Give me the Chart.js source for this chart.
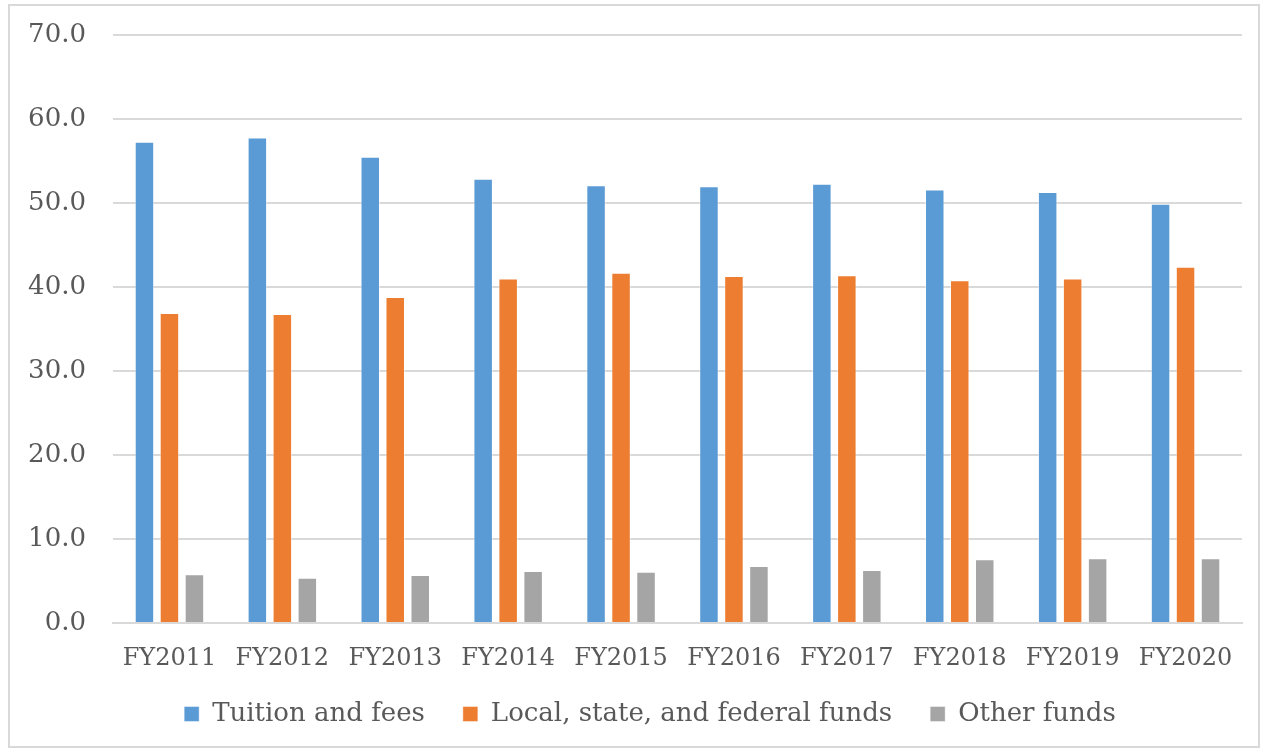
<!DOCTYPE html>
<html>
<head>
<meta charset="utf-8">
<script src="https://cdn.jsdelivr.net/npm/chart.js@4"></script>
<style>
html,body{margin:0;padding:0;background:#fff;}
#wrap{position:absolute;left:0;top:0;width:1266px;height:750px;}
</style>
</head>
<body>
<div id="wrap"><canvas id="c" width="1266" height="750"></canvas></div>
<script>
const categories = ["FY2011","FY2012","FY2013","FY2014","FY2015","FY2016","FY2017","FY2018","FY2019","FY2020"];
const tuitionFees = [57.3, 57.8, 55.5, 52.9, 52.1, 52.0, 52.3, 51.6, 51.3, 49.9];
const publicFunds = [36.9, 36.8, 38.8, 41.0, 41.7, 41.3, 41.4, 40.8, 41.0, 42.4];
const otherFunds = [5.8, 5.4, 5.7, 6.2, 6.1, 6.8, 6.3, 7.6, 7.7, 7.7];
const seriesNames = ["Tuition and fees", "Local, state, and federal funds", "Other funds"];
const yTicks = [0, 10, 20, 30, 40, 50, 60, 70];

const FONT = "'DejaVu Serif', Georgia, serif";
const TXT = "#595959";
const LEFT_PAD = 58;

const borderPlugin = {
  id: 'outerBorder',
  beforeDraw(chart) {
    const ctx = chart.ctx;
    ctx.save();
    ctx.fillStyle = '#fff';
    ctx.fillRect(0, 0, chart.width, chart.height);
    ctx.strokeStyle = '#D9D9D9';
    ctx.lineWidth = 2;
    ctx.strokeRect(9, 5, 1250, 742);
    ctx.restore();
    // let tick labels overflow their scale boxes
    Object.values(chart.scales).forEach(s => { s._computeLabelArea = () => undefined; });
  }
};

const ds = (label, data, color) => ({
  label, data, backgroundColor: color, borderColor: 'rgba(255,255,255,0.45)', borderWidth: 1,
  categoryPercentage: 0.664, barPercentage: 0.78
});

new Chart(document.getElementById('c'), {
  type: 'bar',
  data: {
    labels: categories,
    datasets: [
      ds(seriesNames[0], tuitionFees, '#5B9BD5'),
      ds(seriesNames[1], publicFunds, '#ED7D31'),
      ds(seriesNames[2], otherFunds, '#A5A5A5')
    ]
  },
  options: {
    responsive: false,
    animation: false,
    layout: { autoPadding: false, padding: { left: LEFT_PAD, right: 24, top: 35, bottom: 13 } },
    plugins: {
      tooltip: { enabled: false },
      legend: {
        position: 'bottom',
        labels: {
          font: { family: FONT, size: 26 },
          color: TXT,
          boxWidth: 15,
          boxHeight: 15,
          padding: 38
        }
      }
    },
    scales: {
      x: {
        afterFit(scale) { scale.height = 40; scale.paddingLeft = 0; scale.paddingRight = 0; },
        grid: { display: false, drawTicks: false },
        border: { display: true, color: '#D9D9D9', width: 2 },
        ticks: { font: { family: FONT, size: 24 }, color: TXT, padding: 21, maxRotation: 0, autoSkip: false }
      },
      y: {
        min: 0, max: 70,
        afterBuildTicks(scale) { scale.ticks = yTicks.map(v => ({ value: v })); },
        afterFit(scale) { scale.width = 113 - LEFT_PAD; scale.paddingTop = 0; scale.paddingBottom = 0; },
        grid: { color: '#D9D9D9', lineWidth: 2, drawTicks: false },
        border: { display: false },
        ticks: {
          font: { family: FONT, size: 26 }, color: TXT, padding: 27,
          callback: v => Number(v).toFixed(1)
        }
      }
    }
  },
  plugins: [borderPlugin]
});
</script>
</body>
</html>
